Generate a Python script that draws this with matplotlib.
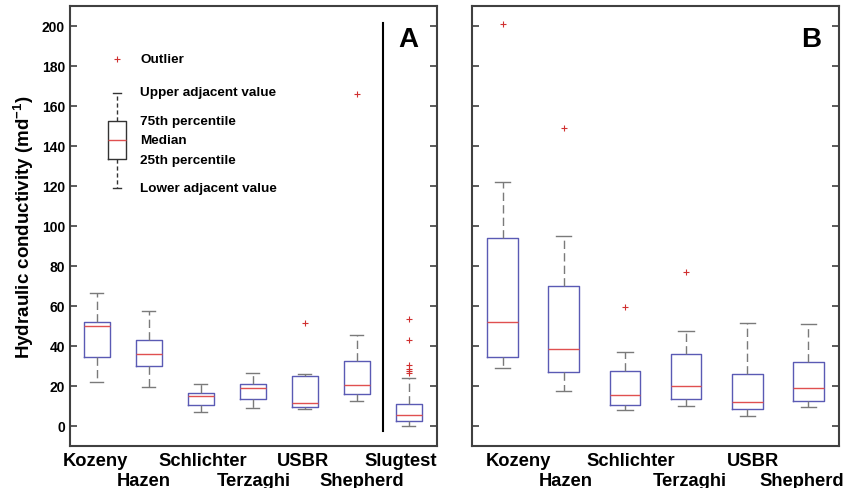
import matplotlib
matplotlib.use("Agg")
import matplotlib.pyplot as plt
import matplotlib.transforms as mtransforms

plt.rcParams['font.family'] = ['Liberation Sans', 'DejaVu Sans']
plt.rcParams['font.weight'] = 'bold'
plt.rcParams['mathtext.fontset'] = 'custom'
plt.rcParams['mathtext.rm'] = 'Liberation Sans:bold'
plt.rcParams['mathtext.bf'] = 'Liberation Sans:bold'

# ---------------- data ----------------
methods_a = ["Kozeny", "Hazen", "Schlichter", "Terzaghi", "USBR", "Shepherd", "Slugtest"]
lo_a  = [22.0, 19.3, 7.0, 9.0, 8.7, 12.5, 0.0]
q1_a  = [34.5, 29.8, 10.5, 13.5, 9.7, 16.2, 2.3]
med_a = [50.0, 35.8, 14.8, 18.8, 11.3, 20.7, 5.7]
q3_a  = [52.0, 43.2, 16.5, 20.8, 25.2, 32.3, 11.0]
hi_a  = [66.7, 57.3, 21.2, 26.7, 26.0, 45.7, 24.0]
fl_a  = [[], [], [], [], [51.7], [166.2], [53.5, 42.8, 30.7, 28.5, 27.3, 26.5]]

methods_b = ["Kozeny", "Hazen", "Schlichter", "Terzaghi", "USBR", "Shepherd"]
lo_b  = [28.8, 17.5, 7.8, 10.2, 5.2, 9.3]
q1_b  = [34.7, 27.0, 10.5, 13.5, 8.7, 12.5]
med_b = [52.2, 38.3, 15.7, 19.8, 12.0, 18.8]
q3_b  = [93.8, 70.2, 27.7, 35.8, 26.0, 31.8]
hi_b  = [122.0, 95.2, 37.0, 47.5, 51.7, 51.2]
fl_b  = [[201.0], [149.0], [59.7], [76.8], [], []]

# legend example box
leg_stats = dict(whislo=119.2, q1=133.3, med=143.0, q3=152.5, whishi=166.7, fliers=[])
leg_outlier = 183.7
leg_texts = ["Outlier", "Upper adjacent value", "75th percentile", "Median",
             "25th percentile", "Lower adjacent value"]
leg_text_y = [183.7, 167.2, 152.5, 143.0, 133.0, 118.8]

yticks = [0, 20, 40, 60, 80, 100, 120, 140, 160, 180, 200]

# ---------------- layout (label x shifts relative to box centres) ----------------
label_shift_a = [-0.03, -0.11, 0.04, 0.02, -0.04, 0.09, -0.15]
label_shift_b = [0.26, 0.03, 0.09, 0.06, 0.09, -0.10]

# ---------------- style ----------------
BOX = '#5a5ab4'
MED = '#e05050'
WHK = '#7a7a7a'
FLI = '#d03030'

fig = plt.figure(figsize=(8.46, 4.89), dpi=100)
axA = fig.add_axes([0.0827, 0.0859, 0.4338, 0.8998])
axB = fig.add_axes([0.5579, 0.0859, 0.4338, 0.8998])


def make_stats(lo, q1, med, q3, hi, fl):
    return [dict(whislo=a, q1=b, med=c, q3=d, whishi=e, fliers=f)
            for a, b, c, d, e, f in zip(lo, q1, med, q3, hi, fl)]


def draw(ax, stats, names, xlim, shifts):
    pos = list(range(1, len(names) + 1))
    ax.bxp(stats, positions=pos, widths=0.5, showfliers=True,
           boxprops=dict(color=BOX, linewidth=1.0),
           medianprops=dict(color=MED, linewidth=1.0),
           whiskerprops=dict(color=WHK, linewidth=1.0, linestyle=(0, (6, 3))),
           capprops=dict(color=WHK, linewidth=1.0),
           flierprops=dict(marker='+', markeredgecolor=FLI, markersize=5,
                           markeredgewidth=0.8, linestyle='none'),
           capwidths=0.25, manage_ticks=False)
    ax.set_xlim(*xlim)
    ax.set_ylim(-10, 210)
    ax.set_xticks([])
    ax.set_yticks(yticks)
    ax.tick_params(axis='y', direction='in', left=True, right=True, length=5,
                   width=1.2, color='#404040', labelsize=10)
    trans = mtransforms.blended_transform_factory(ax.transData, ax.transAxes)
    for i, (n, p, s) in enumerate(zip(names, pos, shifts)):
        yy = -0.0432 if i % 2 == 0 else -0.0886
        ax.text(p + s, yy, n, transform=trans, ha='center', va='baseline',
                fontsize=13.2, fontweight='bold', clip_on=False)
    for sp in ax.spines.values():
        sp.set_color('#404040')
        sp.set_linewidth(1.5)


draw(axA, make_stats(lo_a, q1_a, med_a, q3_a, hi_a, fl_a), methods_a, (0.48, 7.54), label_shift_a)
draw(axB, make_stats(lo_b, q1_b, med_b, q3_b, hi_b, fl_b), methods_b, (0.5, 6.5), label_shift_b)
axB.set_yticklabels([])

axA.set_ylabel("Hydraulic conductivity (md$^{-1}$)", fontsize=13.5, fontweight='bold', labelpad=4)

# separator line in panel A
axA.plot([6.5, 6.5], [-2.5, 201.5], color='black', linewidth=1.5)

# legend example
axA.bxp([leg_stats], positions=[1.38], widths=0.35, showfliers=False,
        boxprops=dict(color='#333333', linewidth=1.0),
        medianprops=dict(color=MED, linewidth=1.0),
        whiskerprops=dict(color='#333333', linewidth=1.0, linestyle=(0, (3, 2))),
        capprops=dict(color='#333333', linewidth=1.0),
        capwidths=0.15, manage_ticks=False)
axA.plot([1.38], [leg_outlier], marker='+', color=FLI, markersize=4,
         markeredgewidth=0.8, linestyle='none')
for t, y in zip(leg_texts, leg_text_y):
    axA.text(1.83, y, t, fontsize=9.7, fontweight='bold', va='center', ha='left')

axA.text(0.95, 0.955, "A", transform=axA.transAxes, fontsize=20,
         fontweight='bold', ha='right', va='top')
axB.text(0.95, 0.955, "B", transform=axB.transAxes, fontsize=20,
         fontweight='bold', ha='right', va='top')

fig.savefig("out.png", dpi=100)
